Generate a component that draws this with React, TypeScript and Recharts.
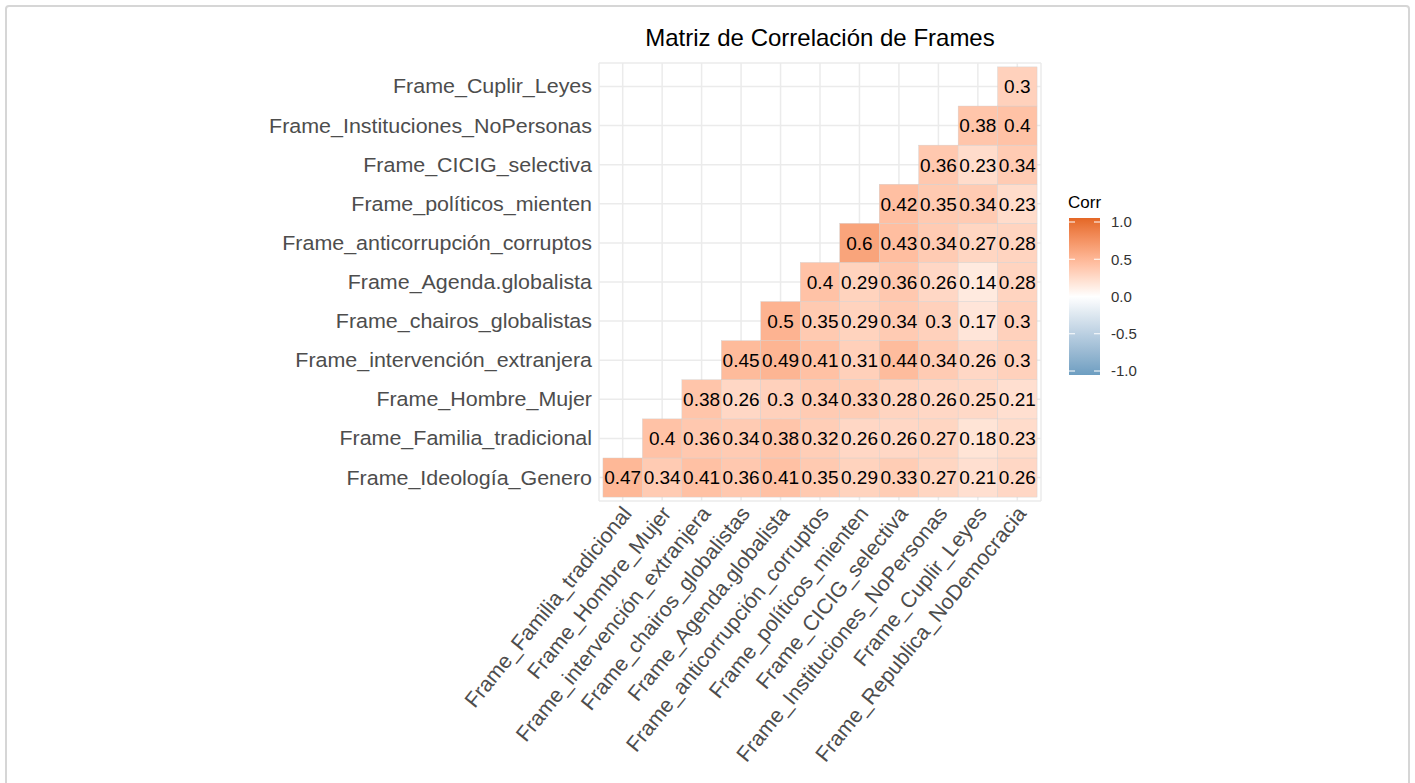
import React from 'react'
import { CartesianGrid, Scatter, ScatterChart, XAxis, YAxis } from 'recharts'

const COL_LABELS = [
  'Frame_Familia_tradicional',
  'Frame_Hombre_Mujer',
  'Frame_intervención_extranjera',
  'Frame_chairos_globalistas',
  'Frame_Agenda.globalista',
  'Frame_anticorrupción_corruptos',
  'Frame_políticos_mienten',
  'Frame_CICIG_selectiva',
  'Frame_Instituciones_NoPersonas',
  'Frame_Cuplir_Leyes',
  'Frame_Republica_NoDemocracia',
]

// bottom row first
const ROW_LABELS = [
  'Frame_Ideología_Genero',
  'Frame_Familia_tradicional',
  'Frame_Hombre_Mujer',
  'Frame_intervención_extranjera',
  'Frame_chairos_globalistas',
  'Frame_Agenda.globalista',
  'Frame_anticorrupción_corruptos',
  'Frame_políticos_mienten',
  'Frame_CICIG_selectiva',
  'Frame_Instituciones_NoPersonas',
  'Frame_Cuplir_Leyes',
]

// each row starts at the column with the same index
const ideologiaGenero = [0.47, 0.34, 0.41, 0.36, 0.41, 0.35, 0.29, 0.33, 0.27, 0.21, 0.26]
const familiaTradicional = [0.4, 0.36, 0.34, 0.38, 0.32, 0.26, 0.26, 0.27, 0.18, 0.23]
const hombreMujer = [0.38, 0.26, 0.3, 0.34, 0.33, 0.28, 0.26, 0.25, 0.21]
const intervencionExtranjera = [0.45, 0.49, 0.41, 0.31, 0.44, 0.34, 0.26, 0.3]
const chairosGlobalistas = [0.5, 0.35, 0.29, 0.34, 0.3, 0.17, 0.3]
const agendaGlobalista = [0.4, 0.29, 0.36, 0.26, 0.14, 0.28]
const anticorrupcionCorruptos = [0.6, 0.43, 0.34, 0.27, 0.28]
const politicosMienten = [0.42, 0.35, 0.34, 0.23]
const cicigSelectiva = [0.36, 0.23, 0.34]
const institucionesNoPersonas = [0.38, 0.4]
const cuplirLeyes = [0.3]

const ROW_VALUES = [
  ideologiaGenero,
  familiaTradicional,
  hombreMujer,
  intervencionExtranjera,
  chairosGlobalistas,
  agendaGlobalista,
  anticorrupcionCorruptos,
  politicosMienten,
  cicigSelectiva,
  institucionesNoPersonas,
  cuplirLeyes,
]

const LEGEND_TICKS = [1, 0.5, 0, -0.5, -1]

const LOW = '#6D9EC1'
const HIGH = '#E46726'
const FONT = '"Liberation Sans", Arial, Helvetica, sans-serif'

const W = 1415
const H = 783
const MARGIN = { top: 63, right: 374, bottom: 12, left: 9 }
const Y_AXIS_W = 590
const X_AXIS_H = 270
const PLOT_W = W - MARGIN.left - MARGIN.right - Y_AXIS_W
const PLOT_H = H - MARGIN.top - MARGIN.bottom - X_AXIS_H
const DOMAIN: [number, number] = [-0.6, 10.6]
const CELL_W = PLOT_W / (DOMAIN[1] - DOMAIN[0])
const CELL_H = PLOT_H / (DOMAIN[1] - DOMAIN[0])

type Cell = { x: number; y: number; value: number }

const cells: Cell[] = ROW_VALUES.flatMap((vals, row) =>
  vals.map((value, k) => ({ x: row + k, y: row, value })),
)

const TICKS = COL_LABELS.map((_, i) => i)

// colour ramp in CIELAB like scales::div_gradient_pal
function toLab(hex: string) {
  const n = parseInt(hex.slice(1), 16)
  const lin = [(n >> 16) & 255, (n >> 8) & 255, n & 255].map((c) => {
    const s = c / 255
    return s <= 0.04045 ? s / 12.92 : Math.pow((s + 0.055) / 1.055, 2.4)
  })
  const [r, g, b] = lin
  const X = (0.4124 * r + 0.3576 * g + 0.1805 * b) / 0.95047
  const Y = 0.2126 * r + 0.7152 * g + 0.0722 * b
  const Z = (0.0193 * r + 0.1192 * g + 0.9505 * b) / 1.08883
  const f = (t: number) => (t > 0.008856 ? Math.cbrt(t) : 7.787 * t + 16 / 116)
  const fx = f(X)
  const fy = f(Y)
  const fz = f(Z)
  return [116 * fy - 16, 500 * (fx - fy), 200 * (fy - fz)]
}

function fromLab([L, a, bb]: number[]) {
  const fy = (L + 16) / 116
  const fx = fy + a / 500
  const fz = fy - bb / 200
  const inv = (t: number) => (t * t * t > 0.008856 ? t * t * t : (t - 16 / 116) / 7.787)
  const X = inv(fx) * 0.95047
  const Y = inv(fy)
  const Z = inv(fz) * 1.08883
  const r = 3.2406 * X - 1.5372 * Y - 0.4986 * Z
  const g = -0.9689 * X + 1.8758 * Y + 0.0415 * Z
  const b = 0.0557 * X - 0.204 * Y + 1.057 * Z
  const out = [r, g, b].map((c) => {
    const s = c <= 0.0031308 ? 12.92 * c : 1.055 * Math.pow(c, 1 / 2.4) - 0.055
    return Math.round(Math.min(1, Math.max(0, s)) * 255)
  })
  return `rgb(${out[0]},${out[1]},${out[2]})`
}

const LAB_WHITE = toLab('#FFFFFF')
const LAB_LOW = toLab(LOW)
const LAB_HIGH = toLab(HIGH)

function fillFor(v: number) {
  const end = v >= 0 ? LAB_HIGH : LAB_LOW
  const t = Math.min(1, Math.abs(v))
  return fromLab(LAB_WHITE.map((w, i) => w + (end[i] - w) * t))
}

const TileShape = (props: any) => {
  const { cx, cy, payload } = props
  return (
    <rect
      x={cx - CELL_W / 2}
      y={cy - CELL_H / 2}
      width={CELL_W}
      height={CELL_H}
      fill={fillFor(payload.value)}
      stroke="#d0d0d0"
      strokeWidth={0.4}
    />
  )
}

const LabelShape = (props: any) => {
  const { cx, cy, payload } = props
  return (
    <text
      x={cx}
      y={cy}
      dy="0.36em"
      textAnchor="middle"
      fontFamily={FONT}
      fontSize={19}
      fill="#000"
    >
      {String(payload.value)}
    </text>
  )
}

const YTick = (props: any) => {
  const { x, y, payload } = props
  return (
    <text
      transform={`translate(${x} ${y}) scale(1.1 1)`}
      dy="0.36em"
      textAnchor="end"
      fontFamily={FONT}
      fontSize={19.5}
      fill="#4D4D4D"
    >
      {ROW_LABELS[payload.value]}
    </text>
  )
}

const XTick = (props: any) => {
  const { x, y, payload } = props
  const ax = x + 10
  const ay = y + 9
  return (
    <text
      transform={`translate(${ax} ${ay}) rotate(-51)`}
      textAnchor="end"
      fontFamily={FONT}
      fontSize={21.3}
      fill="#4D4D4D"
    >
      {COL_LABELS[payload.value]}
    </text>
  )
}

function Legend() {
  const barTop = 218
  const barH = 157
  const barX = 1069
  const barW = 31
  const stops = Array.from({ length: 21 }, (_, i) => 1 - i * 0.1)
  const yFor = (v: number) => barTop + 4 + ((1 - v) / 2) * (barH - 8)
  return (
    <svg width={W} height={H} style={{ position: 'absolute', left: 0, top: 0, pointerEvents: 'none' }}>
      <defs>
        <linearGradient id="corrGrad" x1="0" y1="0" x2="0" y2="1">
          {stops.map((v, i) => (
            <stop key={i} offset={`${(i / (stops.length - 1)) * 100}%`} stopColor={fillFor(v)} />
          ))}
        </linearGradient>
      </defs>
      <text x={820} y={46} textAnchor="middle" fontFamily={FONT} fontSize={24} fill="#000">
        Matriz de Correlación de Frames
      </text>
      <text x={1068} y={208} fontFamily={FONT} fontSize={17} fill="#000">
        Corr
      </text>
      <rect x={barX} y={barTop} width={barW} height={barH} fill="url(#corrGrad)" />
      {LEGEND_TICKS.map((v) => (
        <g key={v}>
          <line x1={barX} x2={barX + 6} y1={yFor(v)} y2={yFor(v)} stroke="#fff" strokeWidth={1} />
          <line x1={barX + barW - 6} x2={barX + barW} y1={yFor(v)} y2={yFor(v)} stroke="#fff" strokeWidth={1} />
          <text x={1111} y={yFor(v)} dy="0.36em" fontFamily={FONT} fontSize={15} fill="#333">
            {v.toFixed(1)}
          </text>
        </g>
      ))}
    </svg>
  )
}

export default function App() {
  return (
    <div style={{ position: 'absolute', left: 0, top: 0, width: W, height: H, background: '#fff', overflow: 'hidden' }}>
      <div
        style={{
          position: 'absolute',
          left: 5,
          top: 5,
          width: 1405,
          height: 800,
          border: '2px solid #d6d6d6',
          borderRadius: 4,
          boxSizing: 'border-box',
        }}
      />
      <div style={{ position: 'absolute', left: 0, top: 0 }}>
        <ScatterChart width={W} height={H} margin={MARGIN}>
          <CartesianGrid stroke="#EBEBEB" strokeWidth={1.5} />
          <XAxis
            type="number"
            dataKey="x"
            domain={DOMAIN}
            ticks={TICKS}
            interval={0}
            height={X_AXIS_H}
            axisLine={false}
            tickLine={false}
            tickSize={0}
            tickMargin={4}
            tick={<XTick />}
            allowDataOverflow
          />
          <YAxis
            type="number"
            dataKey="y"
            domain={DOMAIN}
            ticks={TICKS}
            interval={0}
            width={Y_AXIS_W}
            axisLine={false}
            tickLine={false}
            tickSize={0}
            tickMargin={7}
            tick={<YTick />}
            allowDataOverflow
          />
          <Scatter data={cells} shape={<TileShape />} isAnimationActive={false} />
          <Scatter data={cells} shape={<LabelShape />} isAnimationActive={false} />
        </ScatterChart>
      </div>
      <Legend />
    </div>
  )
}
